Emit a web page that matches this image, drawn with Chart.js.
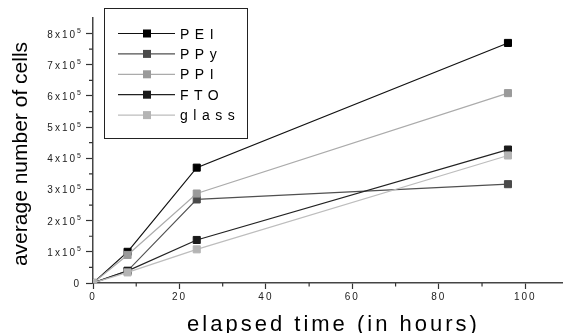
<!DOCTYPE html>
<html><head><meta charset="utf-8">
<script src="https://cdn.jsdelivr.net/npm/chart.js@4.4.1/dist/chart.umd.min.js"></script>
<style>html,body{margin:0;padding:0;background:#fff}#wrap{width:568px;height:333px;position:relative}</style>
</head><body><div id="wrap"><canvas id="c" width="568" height="333"></canvas></div>
<script>
// ---- data ----
const hours = [0, 8, 24, 96];
const seriesNames = ['PEI', 'PPy', 'PPI', 'FTO', 'glass'];
const PEI   = [0, 100000, 370000, 770000];
const PPy   = [0, 39000, 268000, 317000];
const PPI   = [0, 90000, 287000, 609000];
const FTO   = [0, 39000, 138000, 428000];
const glass = [0, 34000, 108000, 409000];
const xTickValues = [0, 20, 40, 60, 80, 100];
const yTickValues = [0, 100000, 200000, 300000, 400000, 500000, 600000, 700000, 800000];
const yTickMantissa = ['0', '1x10', '2x10', '3x10', '4x10', '5x10', '6x10', '7x10', '8x10'];
const yTickExponent = ['', '5', '5', '5', '5', '5', '5', '5', '5'];
const xTitle = 'elapsed time (in hours)';
const yTitle = 'average number of cells';

// ---- styles ----
const FONT = '"Liberation Sans", Arial, sans-serif';
const markerColors = ['#000000', '#4a4a4a', '#9a9a9a', '#1a1a1a', '#b4b4b4'];
const lineColors   = ['#111111', '#505050', '#ababab', '#222222', '#bdbdbd'];
const seriesValues = [PEI, PPy, PPI, FTO, glass];

const datasets = seriesNames.map((name, i) => ({
  label: name,
  data: hours.map((h, j) => ({x: h, y: seriesValues[i][j]})),
  borderColor: lineColors[i],
  backgroundColor: markerColors[i],
  pointBackgroundColor: markerColors[i],
  pointBorderColor: markerColors[i],
  pointBorderWidth: 1,
  pointStyle: 'rect',
  pointRadius: 5,
  borderWidth: 1.2,
  tension: 0,
  fill: false,
  order: seriesNames.length - i
}));

const deco = {
  id: 'deco',
  beforeDraw(chart) { chart.ctx.letterSpacing = '2px'; },
  afterDraw(chart) {
    const ctx = chart.ctx, xs = chart.scales.x, ys = chart.scales.y;
    ctx.save();
    // minor ticks
    ctx.strokeStyle = '#333'; ctx.lineWidth = 1.2;
    ctx.beginPath();
    for (let v = 10; v < xs.max; v += 20) {
      const px = xs.getPixelForValue(v);
      ctx.moveTo(px, ys.bottom); ctx.lineTo(px, ys.bottom + 3.5);
    }
    for (let v = 50000; v < ys.max; v += 100000) {
      const py = ys.getPixelForValue(v);
      ctx.moveTo(xs.left, py); ctx.lineTo(xs.left - 4, py);
    }
    ctx.stroke();

    // y tick labels with superscript exponent
    ctx.fillStyle = '#222';
    ctx.letterSpacing = '2px';
    yTickValues.forEach((v, i) => {
      const py = ys.getPixelForValue(v);
      ctx.font = '10px ' + FONT;
      ctx.textBaseline = 'alphabetic';
      if (yTickExponent[i]) {
        ctx.textAlign = 'right';
        ctx.fillText(yTickMantissa[i], 77, py + 4);
        ctx.font = '7px ' + FONT;
        ctx.textAlign = 'left';
        ctx.fillText(yTickExponent[i], 77, py - 0.5);
      } else {
        ctx.textAlign = 'right';
        ctx.fillText(yTickMantissa[i], 81, py + 4);
      }
    });

    // x title
    ctx.fillStyle = '#000';
    ctx.letterSpacing = '3px';
    ctx.font = '22px ' + FONT;
    ctx.textAlign = 'center'; ctx.textBaseline = 'alphabetic';
    ctx.fillText(xTitle, 333.5, 331);

    // y title
    ctx.letterSpacing = '0px';
    ctx.save();
    ctx.translate(27, 154);
    ctx.rotate(-Math.PI / 2);
    ctx.font = '21px ' + FONT;
    ctx.fillText(yTitle, 0, 0);
    ctx.restore();

    // legend
    ctx.strokeStyle = '#222'; ctx.lineWidth = 1;
    ctx.strokeRect(104.5, 8.5, 143, 130);
    ctx.font = '14px ' + FONT;
    ctx.letterSpacing = '5.5px';
    ctx.textAlign = 'left';
    chart.data.datasets.forEach((ds, i) => {
      const y = 33.5 + i * 20.4;
      ctx.strokeStyle = ds.borderColor; ctx.lineWidth = 1.2;
      ctx.beginPath(); ctx.moveTo(118, y); ctx.lineTo(175, y); ctx.stroke();
      ctx.fillStyle = ds.pointBackgroundColor;
      ctx.fillRect(143, y - 4, 8, 8);
      ctx.fillStyle = '#000';
      ctx.fillText(ds.label, 180, y + 5);
    });
    ctx.restore();
  }
};

new Chart(document.getElementById('c'), {
  type: 'line',
  data: { datasets },
  options: {
    responsive: false,
    devicePixelRatio: 1,
    animation: false,
    layout: { padding: { top: 18, left: 0, right: 0, bottom: 0 } },
    plugins: { legend: { display: false }, tooltip: { enabled: false } },
    scales: {
      x: {
        type: 'linear', min: 0, max: 108.5,
        afterBuildTicks: s => { s.ticks = xTickValues.map(v => ({value: v})); },
        afterFit: s => { s.height = 50; },
        grid: { drawOnChartArea: false, drawTicks: true, tickLength: 6, tickColor: '#333', tickWidth: 1.2 },
        border: { color: '#444', width: 1.5 },
        ticks: { font: { family: FONT, size: 10 }, color: '#222', padding: 2, maxRotation: 0, autoSkip: false,
                 callback: v => String(v) }
      },
      y: {
        type: 'linear', min: 0, max: 850000,
        afterBuildTicks: s => { s.ticks = yTickValues.map(v => ({value: v})); },
        afterFit: s => { s.width = 93; },
        grid: { drawOnChartArea: false, drawTicks: true, tickLength: 7, tickColor: '#333', tickWidth: 1.2 },
        border: { color: '#444', width: 1.5 },
        ticks: { display: false }
      }
    }
  },
  plugins: [deco]
});
</script>
</body></html>
